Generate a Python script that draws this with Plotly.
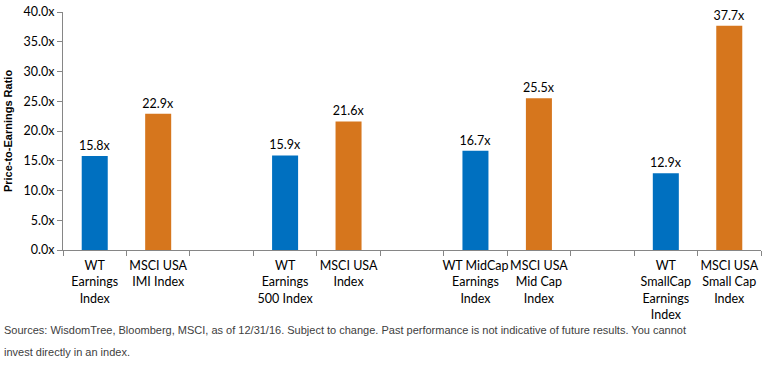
import plotly.graph_objects as go

categories = [
    "WT<br>Earnings<br>Index", "MSCI USA<br>IMI Index", " ",
    "WT<br>Earnings<br>500 Index", "MSCI USA<br>Index", "  ",
    "WT MidCap<br>Earnings<br>Index", "MSCI USA<br>Mid Cap<br>Index", "   ",
    "WT<br>SmallCap<br>Earnings<br>Index", "MSCI USA<br>Small Cap<br>Index",
]
bar_categories = [
    "WT<br>Earnings<br>Index", "MSCI USA<br>IMI Index",
    "WT<br>Earnings<br>500 Index", "MSCI USA<br>Index",
    "WT MidCap<br>Earnings<br>Index", "MSCI USA<br>Mid Cap<br>Index",
    "WT<br>SmallCap<br>Earnings<br>Index", "MSCI USA<br>Small Cap<br>Index",
]
pe_values = [15.8, 22.9, 15.9, 21.6, 16.7, 25.5, 12.9, 37.7]
bar_colors = ["#0070C0", "#D6761D"] * 4
y_ticks = [0, 5, 10, 15, 20, 25, 30, 35, 40]

fig = go.Figure()
fig.add_trace(go.Bar(
    x=bar_categories,
    y=pe_values,
    marker=dict(color=bar_colors, line=dict(width=0)),
    text=[f"{v:.1f}x" for v in pe_values],
    textposition="outside",
    constraintext="none",
    textfont=dict(family="Lato", size=12.5, color="#000000"),
    cliponaxis=False,
    hoverinfo="skip",
))

fig.update_layout(
    width=765, height=371,
    margin=dict(l=63, r=4, t=12, b=121),
    paper_bgcolor="white", plot_bgcolor="white",
    bargap=0.59,
    showlegend=False,
    font=dict(family="Lato", size=12, color="#000000"),
    xaxis=dict(
        type="category",
        categoryorder="array",
        categoryarray=categories,
        tickson="boundaries",
        tickangle=0,
        ticks="outside", ticklen=5, tickcolor="#868686",
        ticklabelstandoff=4,
        showline=True, linecolor="#868686", linewidth=1,
        showgrid=False, zeroline=False,
        tickfont=dict(family="Lato", size=12.5, color="#000000"),
        range=[-0.5, 10.5],
    ),
    yaxis=dict(
        range=[0, 40],
        tickvals=y_ticks,
        ticktext=[f"{v:.1f}x" for v in y_ticks],
        ticks="outside", ticklen=5, tickcolor="#868686",
        showline=True, linecolor="#868686", linewidth=1,
        showgrid=False, zeroline=False,
        tickfont=dict(family="Lato", size=12.5, color="#000000"),
        title=dict(text="<b>Price-to-Earnings Ratio</b>",
                   font=dict(family="Liberation Sans", size=11, color="#000000"),
                   standoff=8),
    ),
)

fig.add_annotation(
    text="Sources: WisdomTree, Bloomberg, MSCI, as of 12/31/16. Subject to change. Past performance is not indicative of future results. You cannot",
    xref="paper", yref="paper", x=0, y=0,
    xanchor="left", yanchor="middle",
    xshift=-61, yshift=-80,
    align="left", showarrow=False,
    font=dict(family="Liberation Sans", size=11, color="#404040"),
)
fig.add_annotation(
    text="invest directly in an index.",
    xref="paper", yref="paper", x=0, y=0,
    xanchor="left", yanchor="middle",
    xshift=-61, yshift=-102,
    align="left", showarrow=False,
    font=dict(family="Liberation Sans", size=11, color="#404040"),
)

fig.write_html("out.html")
